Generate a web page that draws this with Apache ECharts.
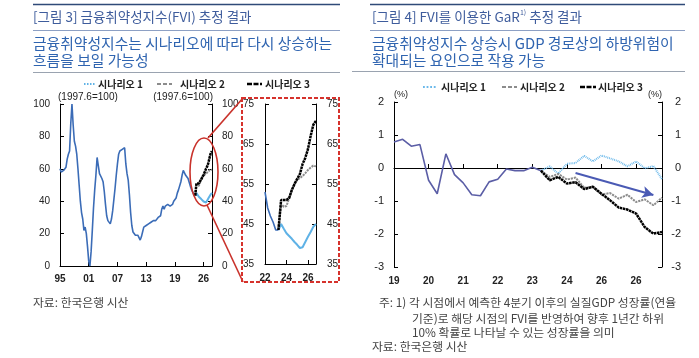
<!DOCTYPE html>
<html><head><meta charset="utf-8">
<script src="https://cdn.jsdelivr.net/npm/echarts@6/dist/echarts.min.js"></script>
<style>html,body{margin:0;padding:0;background:#fff}#c{width:699px;height:358px}</style>
</head><body><div id="c"></div>
<script>
// ---------- data ----------
const leftTicks = ['95','01','07','13','19','26'];
const subTicks = ['22','24','26'];
const rightTicks = ['19','20','21','22','23','24','26','26'];

// FVI history, quarterly 1995Q1 .. 2023Q2
const fviHist = [
 60,58,57,59,60,61,66,69,71,88,
 100,87,77,74,69,60,50,40,33,29,
 22,24,20,12,3,0,9,22,36,47,
 56,67,62,57,56,54,52,46,38,31,
 28,27,26,29,34,41,48,56,63,69,
 71,71,72,71,73,63,57,53,44,33,
 25,21,20,19,20,19,18,16,18,21,
 24,25,25,26,26,27,27,28,28,27,
 28,29,30,29,31,35,37,35,37,36,
 38,39,37,36,38,40,41,42,45,47,
 48,52,56,59,58,56,55,54,53,49,
 47,45.5,43.5,43.5
];
// FVI scenarios, quarterly 2023Q2 .. 2026Q4
const fviS1 = [43.5,45,43.8,42.7,42,41.3,40.5,39.8,39,39.2,40.5,41.8,43,44.3,45];
const fviS2 = [43.5,50,49.3,49.5,51.5,53.5,55,56,56.5,57,57.7,58.5,59.1,59.6,59.4];
const fviS3 = [43.5,51,51,51,51.5,53.5,55,56.3,57.5,60,61.5,63.7,67,69.8,70.8];

// GaR, quarterly 2019Q1 .. 2023Q2
const garHist = [0.79,0.87,0.66,0.71,-0.37,-0.78,0.43,-0.2,-0.45,-0.81,-0.84,-0.42,-0.34,-0.03,-0.08,-0.08,0.02,-0.08];
// GaR scenarios, quarterly 2023Q2 .. 2026Q4
const gar1 = [-0.08,0.05,-0.17,0.13,0.15,0.37,0.2,0.38,0.29,0.2,0.05,0.2,-0.01,0.06,-0.34];
const gar2 = [-0.08,-0.27,-0.18,-0.35,-0.29,-0.6,-0.57,-0.8,-0.76,-0.93,-0.81,-1.03,-0.95,-1.13,-0.9];
const gar3 = [-0.08,-0.37,-0.27,-0.47,-0.43,-0.64,-0.57,-0.78,-0.98,-1.2,-1.26,-1.38,-1.79,-1.99,-1.94];

const names = ['시나리오 1','시나리오 2','시나리오 3'];

// ---------- categories ----------
function quarters(y0, y1){ const a=[]; for(let y=y0;y<=y1;y++) for(let q=1;q<=4;q++) a.push(y+'Q'+q); return a; }
const qMain = quarters(1995, 2026);
const qSub = quarters(2022, 2026);
const qRight = quarters(2019, 2026);

function pad(arr, start, len){ const out = new Array(len).fill(null); arr.forEach((v,i)=>{ out[start+i]=v; }); return out; }
const splitMain = qMain.indexOf('2023Q2');
const splitSub = qSub.indexOf('2023Q2');
const startSub = qMain.indexOf('2022Q1');
const splitRight = qRight.indexOf('2023Q2');

// ---------- styles ----------
const KR = '"Noto Sans CJK KR", sans-serif';
const NUM = '"Liberation Sans", Arial, sans-serif';
const axisLine = {show:true, lineStyle:{color:'#000', width:1}};
const tick = {show:true, inside:true, length:4, lineStyle:{color:'#000'}};
const ylab = {color:'#222', fontSize:10, fontFamily:NUM};
const xlab = {color:'#222', fontSize:10, fontFamily:NUM, fontWeight:'bold'};

const cS1L = {color:'#5fb2e6', width:2, type:'solid'};
const cS1R = {color:'#6ab8ea', width:2, type:[0.9,0.9]};
const cS2 = {color:'#8c8c8c', width:2, type:[2.2,0.9]};
const cS3 = {color:'#000', width:2.5, type:[2.6,0.6]};

// legend symbol dash patterns (unscaled pixels)
const lgDash = {s1L:[1.5,1.5], s1R:[1.8,1.8], s2:[4,2], s3:[5,1.5]};

function line(name, data, xi, yi, ls, z){
  return {type:'line', name:name, data:data, xAxisIndex:xi, yAxisIndex:yi, symbol:'none',
    lineStyle:ls, itemStyle:{color:ls.color}, connectNulls:false, z:z||2, silent:true, animation:false};
}

const hcol = '#3b6cb7';
const rcol = '#5b5ea6';

const chart = echarts.init(document.getElementById('c'), null, {renderer:'canvas'});

function txt(x, y, text, size, color, extra){
  return Object.assign({type:'text', silent:true, style:Object.assign({x:x, y:y, text:text, fill:color,
    font: size + 'px ' + KR, verticalAlign:'middle', align:'left'}, extra||{})});
}
function hr(x1, x2, y, color, w){
  return {type:'line', silent:true, shape:{x1:x1,y1:y,x2:x2,y2:y}, style:{stroke:color, lineWidth:w}};
}
function legendSym(x1, x2, y, ls, dash, tx, label){
  return [
    {type:'line', silent:true, shape:{x1:x1,y1:y,x2:x2,y2:y}, style:{stroke:ls.color, lineWidth:ls.width, lineDash:dash}},
    txt(tx, y, label, 10, '#222', {font:'bold 10px ' + KR})
  ];
}

const titleCol = '#3e5c9c';
const subCol = '#2f64b0';
const SUB = 14.8;
const FN = 11.8;

const option = {
  animation:false,
  backgroundColor:'#fff',
  grid:[
    {left:60, top:104, width:152, height:162},
    {left:265, top:104, width:51, height:160},
    {left:394, top:102, width:268, height:165}
  ],
  xAxis:[
    {gridIndex:0, type:'category', data:qMain, boundaryGap:false, axisLine:axisLine,
     axisTick:Object.assign({}, tick, {interval:23}),
     axisLabel:Object.assign({}, xlab, {interval:23, margin:8, formatter:(v,i)=>leftTicks[Math.round(i/24)]||''}),
     splitLine:{show:false}},
    {gridIndex:1, type:'category', data:qSub, boundaryGap:false, axisLine:axisLine,
     axisTick:Object.assign({}, tick, {interval:7}),
     axisLabel:Object.assign({}, xlab, {interval:7, margin:9, formatter:(v,i)=>subTicks[Math.round(i/8)]||''}),
     splitLine:{show:false}},
    {gridIndex:2, type:'category', data:qRight, boundaryGap:false, axisLine:axisLine,
     axisTick:Object.assign({}, tick, {interval:3}),
     axisLabel:Object.assign({}, xlab, {interval:3, margin:9, formatter:(v,i)=>rightTicks[Math.round(i/4)]||''}),
     splitLine:{show:false}}
  ],
  yAxis:[
    {gridIndex:0, type:'value', position:'left', min:0, max:100, interval:20, axisLine:axisLine, axisTick:tick, axisLabel:Object.assign({}, ylab, {margin:10}), splitLine:{show:false}},
    {gridIndex:0, type:'value', position:'right', min:0, max:100, interval:20, axisLine:axisLine, axisTick:tick, axisLabel:Object.assign({}, ylab, {margin:10}), splitLine:{show:false}},
    {gridIndex:1, type:'value', position:'left', min:35, max:75, interval:10, axisLine:axisLine, axisTick:tick, axisLabel:Object.assign({}, ylab, {margin:11}), splitLine:{show:false}},
    {gridIndex:1, type:'value', position:'right', min:35, max:75, interval:10, axisLine:axisLine, axisTick:tick, axisLabel:Object.assign({}, ylab, {margin:11}), splitLine:{show:false}},
    {gridIndex:2, type:'value', position:'left', min:-3, max:2, interval:1, axisLine:axisLine, axisTick:tick, axisLabel:Object.assign({}, ylab, {margin:10, fontSize:11}), splitLine:{show:false}},
    {gridIndex:2, type:'value', position:'right', min:-3, max:2, interval:1, axisLine:axisLine, axisTick:tick, axisLabel:Object.assign({}, ylab, {margin:19, align:'right', fontSize:11}), splitLine:{show:false}}
  ],
  series:[
    line('hist', pad(fviHist, 0, qMain.length), 0, 0, {color:hcol, width:1.6}, 2),
    line(names[0], pad(fviS1, splitMain, qMain.length), 0, 0, cS1L, 3),
    line(names[1], pad(fviS2, splitMain, qMain.length), 0, 0, cS2, 4),
    line(names[2], pad(fviS3, splitMain, qMain.length), 0, 0, cS3, 5),

    line('hist', pad(fviHist.slice(startSub), 0, qSub.length), 1, 2, {color:hcol, width:1.6}, 2),
    line(names[0], pad(fviS1, splitSub, qSub.length), 1, 2, cS1L, 3),
    line(names[1], pad(fviS2, splitSub, qSub.length), 1, 2, cS2, 4),
    line(names[2], pad(fviS3, splitSub, qSub.length), 1, 2, cS3, 5),

    line('hist', pad(garHist, 0, qRight.length), 2, 4, {color:rcol, width:1.6}, 2),
    line(names[0], pad(gar1, splitRight, qRight.length), 2, 4, cS1R, 3),
    line(names[1], pad(gar2, splitRight, qRight.length), 2, 4, cS2, 4),
    Object.assign(line(names[2], pad(gar3, splitRight, qRight.length), 2, 4, cS3, 5), {
      markLine:{silent:true, symbol:['none','arrow'], symbolSize:[9,11], label:{show:false},
        lineStyle:{color:'#4a5ab4', width:2, type:'solid'},
        data:[[{coord:[21,-0.15]},{coord:[29.5,-0.82]}]]}
    })
  ],
  graphic:[
    // left panel header
    hr(33, 340, 4.5, '#2f4a78', 1.5),
    txt(33, 17, '[그림 3] 금융취약성지수(FVI) 추정 결과', 13.5, titleCol),
    hr(33, 340, 30.5, '#8da0c4', 1),
    txt(33, 43, '금융취약성지수는 시나리오에 따라 다시 상승하는', SUB, subCol),
    txt(33, 60, '흐름을 보일 가능성', SUB, subCol),
    hr(33, 340, 72.5, '#9aa3b0', 1),
    ...legendSym(84, 95, 84, cS1L, lgDash.s1L, 98, names[0]),
    ...legendSym(157, 172, 84, cS2, lgDash.s2, 180, names[1]),
    ...legendSym(247, 262, 84, cS3, lgDash.s3, 265, names[2]),
    txt(58, 97, '(1997.6=100)', 10, '#222', {font:'10px ' + NUM}),
    txt(213, 97, '(1997.6=100)', 10, '#222', {font:'10px ' + NUM, align:'right'}),
    // zoom decorations
    {type:'ellipse', silent:true, z:10, shape:{cx:204, cy:172, rx:14, ry:34}, style:{fill:'none', stroke:'#c9322b', lineWidth:1.6}},
    {type:'line', silent:true, z:10, shape:{x1:208,y1:138,x2:243,y2:98}, style:{stroke:'#c9322b', lineWidth:1.6}},
    {type:'line', silent:true, z:10, shape:{x1:207,y1:205,x2:243,y2:282}, style:{stroke:'#c9322b', lineWidth:1.6}},
    {type:'rect', silent:true, z:10, shape:{x:242, y:98, width:97, height:184}, style:{fill:'none', stroke:'#d6322c', lineWidth:2, lineDash:[4,2]}},
    txt(33, 303, '자료: 한국은행 시산', FN, '#444'),

    // right panel header
    hr(370, 685, 4.5, '#2f4a78', 1.5),
    {type:'text', silent:true, style:{x:372, y:17, verticalAlign:'middle', fill:titleCol,
      text:'{a|[그림 4] FVI를 이용한 GaR}{s|1)}{a| 추정 결과}',
      rich:{a:{fontSize:13.5, fontFamily:KR, fill:titleCol, lineHeight:16}, s:{fontSize:7, fontFamily:KR, fill:titleCol, verticalAlign:'top', lineHeight:16}}}},
    hr(370, 685, 30.5, '#8da0c4', 1),
    txt(372, 43, '금융취약성지수 상승시 GDP 경로상의 하방위험이', SUB, subCol),
    txt(372, 60, '확대되는 요인으로 작용 가능', SUB, subCol),
    hr(352, 685, 71.5, '#9aa3b0', 1),
    ...legendSym(423, 437, 87, cS1R, lgDash.s1R, 441, names[0]),
    ...legendSym(502, 517, 87, cS2, lgDash.s2, 520, names[1]),
    ...legendSym(580, 596, 87, cS3, lgDash.s3, 598, names[2]),
    txt(394, 95, '(%)', 9, '#222', {font:'9px ' + NUM}),
    txt(662, 95, '(%)', 9, '#222', {font:'9px ' + NUM, align:'right'}),
    txt(379, 303, '주: 1) 각 시점에서 예측한 4분기 이후의 실질GDP 성장률(연율', FN, '#444'),
    txt(412, 319, '기준)로 해당 시점의 FVI를 반영하여 향후 1년간 하위', FN, '#444'),
    txt(412, 333, '10% 확률로 나타날 수 있는 성장률을 의미', FN, '#444'),
    txt(372, 347, '자료: 한국은행 시산', FN, '#444')
  ]
};
chart.setOption(option);
</script></body></html>
